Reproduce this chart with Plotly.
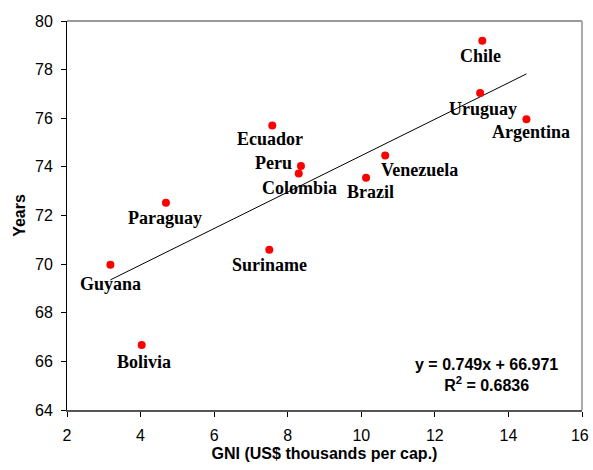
import plotly.graph_objects as go

# ---- data ----
countries = ["Chile", "Uruguay", "Argentina", "Venezuela", "Brazil", "Colombia",
             "Peru", "Ecuador", "Paraguay", "Guyana", "Suriname", "Bolivia"]
gni = [13.29, 13.23, 14.49, 10.65, 10.13, 8.30, 8.36, 7.58, 4.69, 3.18, 7.50, 4.03]
life_exp = [79.19, 77.04, 75.96, 74.47, 73.55, 73.73, 74.04, 75.70, 72.52, 69.97, 70.59, 66.67]
trend_slope = 0.749
trend_intercept = 66.971
trend_r2 = 0.6836
x_ticks = [2, 4, 6, 8, 10, 12, 14, 16]
x_tick_labels = ["2", "4", "6", "8", "10", "12", "14", "16"]
y_ticks = [64, 66, 68, 70, 72, 74, 76, 78, 80]

# ---- label offsets (pixels) ----
label_offsets = {
    "Chile": (-2, -15), "Uruguay": (3, -16), "Argentina": (5, -13),
    "Venezuela": (34, -15), "Brazil": (4, -14), "Colombia": (1, -15),
    "Peru": (-27, 3), "Ecuador": (-2, -13), "Paraguay": (-1, -15),
    "Guyana": (0, -19), "Suriname": (0, -15), "Bolivia": (2, -17),
}

fig = go.Figure()

xmin, xmax = min(gni), max(gni)
fig.add_trace(go.Scatter(
    x=[xmin, xmax],
    y=[trend_slope * xmin + trend_intercept, trend_slope * xmax + trend_intercept],
    mode="lines", line=dict(color="black", width=1), hoverinfo="skip", showlegend=False))

fig.add_trace(go.Scatter(
    x=gni, y=life_exp, mode="markers", text=countries,
    marker=dict(color="#ff0000", size=8), showlegend=False))

for c, gx, ly in zip(countries, gni, life_exp):
    dx, dy = label_offsets[c]
    fig.add_annotation(x=gx, y=ly, text=f"<b>{c}</b>", showarrow=False, xshift=dx, yshift=dy,
                       font=dict(family="Liberation Serif", size=18, color="black"),
                       xanchor="center", yanchor="middle")

fig.add_annotation(
    xref="paper", yref="paper", x=0.815, y=0.091,
    text=f"<b>y = {trend_slope}x + {trend_intercept}<br>R<sup>2</sup> = {trend_r2}</b>",
    showarrow=False, align="center", xanchor="center", yanchor="middle",
    font=dict(family="Liberation Sans", size=16, color="black"))

# top & right frame lines
fig.add_shape(type="line", xref="paper", yref="paper", x0=0, x1=1, y0=1, y1=1,
              line=dict(color="#999999", width=2))
fig.add_shape(type="line", xref="paper", yref="paper", x0=1, x1=1, y0=0, y1=1,
              line=dict(color="#aaaaaa", width=2))

# last tick label nudged left (as in the reference)
tick_text = x_tick_labels[:-1] + [x_tick_labels[-1] + "\u00a0"]

fig.update_layout(
    width=593, height=470,
    margin=dict(l=67, r=11, t=21, b=60),
    plot_bgcolor="white", paper_bgcolor="white",
    font=dict(family="Liberation Sans", color="black"),
    xaxis=dict(range=[2, 16], tickvals=x_ticks, ticktext=tick_text,
               showgrid=False, zeroline=False,
               showline=True, linecolor="#555555", linewidth=2,
               ticks="outside", ticklen=5, tickcolor="black", tickwidth=1,
               ticklabeloverflow="allow", ticklabelstandoff=5, automargin=False,
               tickfont=dict(size=16, family="Liberation Sans"),
               title=dict(text="<b>GNI (US$ thousands per cap.)</b>", standoff=5,
                          font=dict(size=16, family="Liberation Sans"))),
    yaxis=dict(range=[64, 80], tickvals=y_ticks, showgrid=False, zeroline=False,
               showline=True, linecolor="black", linewidth=1,
               ticks="outside", ticklen=5, tickcolor="black", tickwidth=1,
               ticklabelstandoff=5, automargin=False,
               tickfont=dict(size=16, family="Liberation Sans"),
               title=dict(text="<b>Years</b>", standoff=5,
                          font=dict(size=16, family="Liberation Sans"))),
)

# remove the default page margin so the 593x470 figure fills the window exactly
fig.write_html("out.html",
               config={"displayModeBar": False},
               post_script="document.body.style.margin='0';document.body.style.overflow='hidden';")
